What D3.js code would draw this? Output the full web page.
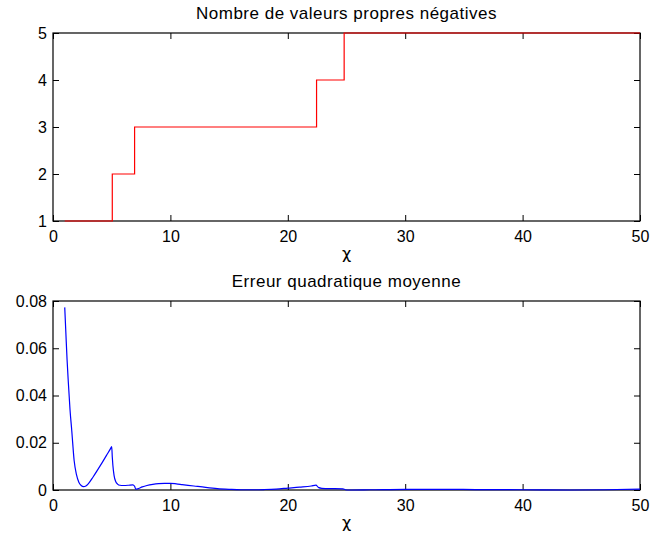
<!DOCTYPE html>
<meta charset="utf-8">
<style>
    body { margin: 0; background: #fff; }
    text { font-family: "Liberation Sans", Arial, sans-serif; fill: #000; }
</style>
<svg width="650" height="542"></svg>
<script src="https://d3js.org/d3.v7.min.js"></script>
<script>

    // top panel: number of negative eigenvalues vs chi (step function)
    var stepChi = [1, 5.05, 6.95, 22.45, 24.8, 50];
    var stepCount = [1, 2, 3, 4, 5, 5];

    // bottom panel: mean squared error vs chi
    var errChi = [1, 1.1, 1.2, 1.3, 1.45, 1.6, 1.8, 2.0, 2.2, 2.4, 2.6, 2.8, 3.0, 3.4, 3.8, 4.2, 4.6, 4.9, 5.0,
        5.05, 5.1, 5.2, 5.35, 5.5, 5.7, 6.0, 6.4, 6.8, 6.95, 7.05, 7.2, 7.6, 8.0, 8.5, 9.0, 9.5, 10, 10.5, 11,
        12, 13, 14, 15, 16, 17, 18, 19, 20, 21, 22, 22.4, 22.6, 22.9, 23.5, 24, 24.7, 24.9, 25.2, 27, 30, 33,
        36, 40, 44, 47, 50];
    var errVal = [0.0773, 0.066, 0.055, 0.046, 0.034, 0.025, 0.0125, 0.0065, 0.0033, 0.0019, 0.0014, 0.0017,
        0.0026, 0.0054, 0.0085, 0.0117, 0.015, 0.0175, 0.0184,
        0.014, 0.0105, 0.0062, 0.0035, 0.0025, 0.002, 0.0019, 0.002, 0.0022, 0.0016, 0.0004, 0.0005, 0.0013,
        0.0019, 0.0024, 0.0027, 0.0028, 0.0028, 0.0026, 0.0023,
        0.0017, 0.0011, 0.0006, 0.0003, 0.0001, 0.0001, 0.0002, 0.0004, 0.0008, 0.0012, 0.0017, 0.0021,
        0.0011, 0.0007, 0.0006, 0.0006, 0.0005, 0.0001, 0.0, 0.0001, 0.0003, 0.0003,
        0.0002, 0.0001, 0.0, 0.0001, 0.0004];

    var xTicks = [0, 10, 20, 30, 40, 50];
    var topTicks = [1, 2, 3, 4, 5];
    var bottomTicks = [0, 0.02, 0.04, 0.06, 0.08];

    var svg = d3.select("svg");
    var left = 53, right = 640;

    function panel(top, bottom, yDomain, yTicks, yFmt, title, xs, ys, color, curve) {
        var x = d3.scaleLinear().domain([0, 50]).range([left, right]);
        var y = d3.scaleLinear().domain(yDomain).range([bottom, top]);
        var g = svg.append("g");

        g.append("rect")
            .attr("x", left).attr("y", top)
            .attr("width", right - left).attr("height", bottom - top)
            .attr("fill", "none").attr("stroke", "#000").attr("stroke-width", 1.2);

        var axes = [
            d3.axisBottom(x).tickValues(xTicks).tickSize(-6).tickPadding(10),
            d3.axisTop(x).tickValues(xTicks).tickSize(-6).tickFormat(""),
            d3.axisLeft(y).tickValues(yTicks).tickSize(-6).tickPadding(6).tickFormat(yFmt),
            d3.axisRight(y).tickValues(yTicks).tickSize(-6).tickFormat("")
        ];
        var pos = ["translate(0," + bottom + ")", "translate(0," + top + ")",
            "translate(" + left + ",0)", "translate(" + right + ",0)"];
        axes.forEach(function (a, i) {
            var ag = g.append("g").attr("transform", pos[i]).call(a);
            ag.select(".domain").remove();
            ag.selectAll("line").attr("stroke", "#000");
            ag.selectAll("text").style("font-size", "16px").style("font-family", "Liberation Sans, Arial, sans-serif").attr("fill", "#000");
        });

        g.append("text")
            .attr("x", (left + right) / 2).attr("y", top - 14)
            .attr("text-anchor", "middle")
            .style("font-size", "17px")
            .style("letter-spacing", "0.5px")
            .text(title);

        g.append("text")
            .attr("x", (left + right) / 2).attr("y", bottom + 38)
            .attr("text-anchor", "middle")
            .style("font-family", "DejaVu Sans, sans-serif")
            .style("font-size", "16px")
            .text("\u03c7");

        var line = d3.line()
            .x(function (d) { return x(d[0]); })
            .y(function (d) { return y(d[1]); })
            .curve(curve);

        g.append("path")
            .datum(d3.zip(xs, ys))
            .attr("d", line)
            .attr("fill", "none")
            .attr("stroke", color)
            .attr("stroke-width", 1.2);
    }

    panel(33, 221, [1, 5], topTicks, d3.format("d"), "Nombre de valeurs propres négatives",
        stepChi, stepCount, "#ff0000", d3.curveStepAfter);

    panel(301, 490, [0, 0.08], bottomTicks, function (d) { return d === 0 ? "0" : d.toFixed(2); },
        "Erreur quadratique moyenne", errChi, errVal, "#0000ff", d3.curveMonotoneX);

</script>
